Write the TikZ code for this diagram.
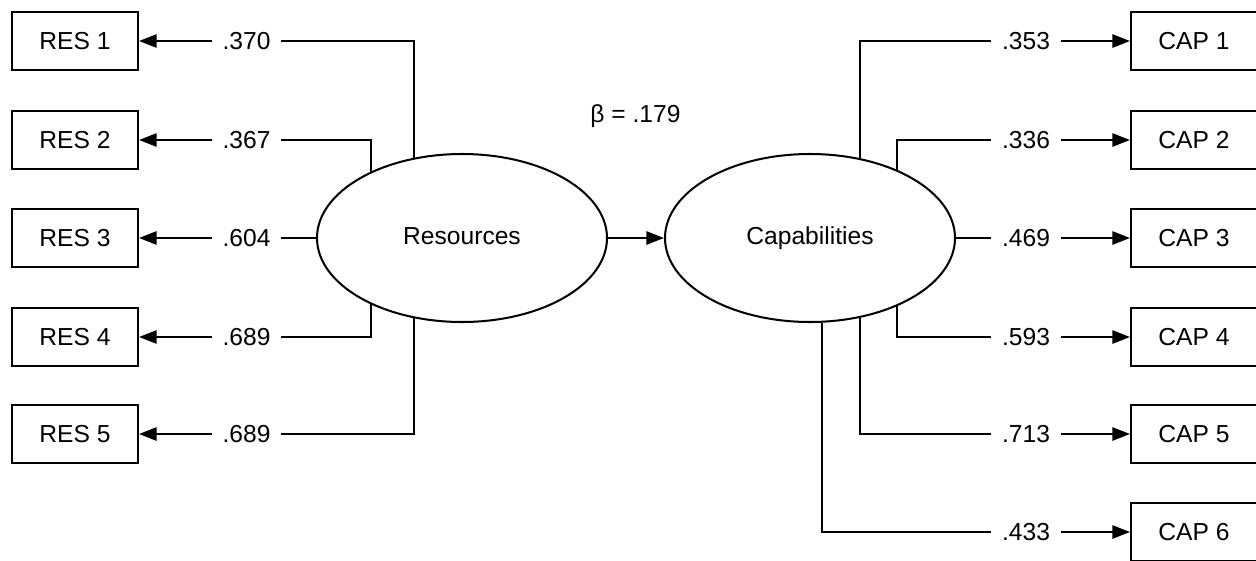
\documentclass[tikz,border=0pt]{standalone}
\usepackage{fontspec}
\setmainfont{Liberation Sans}
\usetikzlibrary{arrows.meta,shapes.geometric}

\begin{document}
\begin{tikzpicture}[line width=1.15pt,
        every node/.style={font=\fontsize{14}{16}\selectfont},
        item/.style={draw,minimum width=2.52cm,minimum height=1.16cm,inner sep=0pt},
        factor/.style={draw,ellipse,minimum width=5.8cm,minimum height=3.36cm,inner sep=0pt,
            text height=10pt,text depth=3pt},
        load/.style={inner xsep=5.5pt,inner ysep=2pt},
        >={Triangle[length=10pt,width=7.5pt]}]
        \useasboundingbox (0,0) rectangle (25.12,-11.2);
        % latent constructs
        \node[factor] (Res) at (9.24,-4.76) {Resources};
        \node[factor] (Cap) at (16.2,-4.76) {Capabilities};
        \node (beta) at (12.71,-2.32) {β = .179};
        % resource items
        \node[item] (R1) at (1.5,-0.82) {RES 1};
        \node[item] (R2) at (1.5,-2.8) {RES 2};
        \node[item] (R3) at (1.5,-4.76) {RES 3};
        \node[item] (R4) at (1.5,-6.74) {RES 4};
        \node[item] (R5) at (1.5,-8.68) {RES 5};
        \node[load] (LR1) at (4.93,-0.82) {.370};
        \node[load] (LR2) at (4.93,-2.8) {.367};
        \node[load] (LR3) at (4.93,-4.76) {.604};
        \node[load] (LR4) at (4.93,-6.74) {.689};
        \node[load] (LR5) at (4.93,-8.68) {.689};
        % capability items
        \node[item] (C1) at (23.88,-0.82) {CAP 1};
        \node[item] (C2) at (23.88,-2.8) {CAP 2};
        \node[item] (C3) at (23.88,-4.76) {CAP 3};
        \node[item] (C4) at (23.88,-6.74) {CAP 4};
        \node[item] (C5) at (23.88,-8.68) {CAP 5};
        \node[item] (C6) at (23.88,-10.64) {CAP 6};
        \node[load] (LC1) at (20.52,-0.82) {.353};
        \node[load] (LC2) at (20.52,-2.8) {.336};
        \node[load] (LC3) at (20.52,-4.76) {.469};
        \node[load] (LC4) at (20.52,-6.74) {.593};
        \node[load] (LC5) at (20.52,-8.68) {.713};
        \node[load] (LC6) at (20.52,-10.64) {.433};
        % structural path
        \draw[->] (Res) to (Cap);
        % loadings of Resources
        \draw (Res.121) |- (LR1);
        \draw (Res.144) |- (LR2);
        \draw (Res) to (LR3);
        \draw (Res.216) |- (LR4);
        \draw (Res.239) |- (LR5);
        \draw[->] (LR1) to (R1);
        \draw[->] (LR2) to (R2);
        \draw[->] (LR3) to (R3);
        \draw[->] (LR4) to (R4);
        \draw[->] (LR5) to (R5);
        % loadings of Capabilities
        \draw (Cap.58) |- (LC1);
        \draw (Cap.38) |- (LC2);
        \draw (Cap) to (LC3);
        \draw (Cap.322) |- (LC4);
        \draw (Cap.302) |- (LC5);
        \draw (Cap.278) |- (LC6);
        \draw[->] (LC1) to (C1);
        \draw[->] (LC2) to (C2);
        \draw[->] (LC3) to (C3);
        \draw[->] (LC4) to (C4);
        \draw[->] (LC5) to (C5);
        \draw[->] (LC6) to (C6);
    \end{tikzpicture}
\end{document}
